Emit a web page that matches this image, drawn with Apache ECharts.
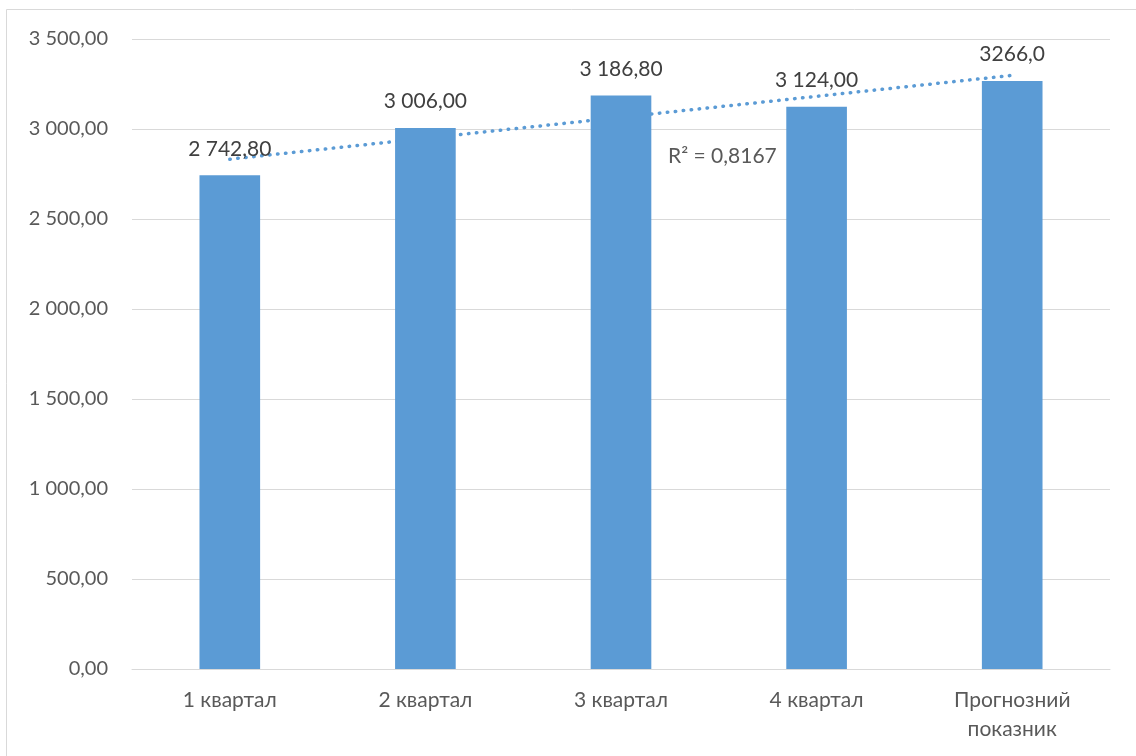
<!DOCTYPE html>
<html>
<head>
<meta charset="utf-8">
<script src="https://cdn.jsdelivr.net/npm/echarts@6/dist/echarts.min.js"></script>
<style>
  html, body { margin: 0; padding: 0; background: #fff; }
  #chart { width: 1136px; height: 756px; }
</style>
</head>
<body>
<div id="chart"></div>
<script>
// Quarterly values and the forecast
const categories = ['1 квартал', '2 квартал', '3 квартал', '4 квартал', 'Прогнозний\nпоказник'];
const values = [2742.8, 3006.0, 3186.8, 3124.0, 3266.0];
const valueLabels = ['2 742,80', '3 006,00', '3 186,80', '3 124,00', '3266,0'];
const yTicks = [0, 500, 1000, 1500, 2000, 2500, 3000, 3500];
const r2Text = 'R² = 0,8167';

// Linear least-squares trend over the category index
function linearTrend(ys) {
  const n = ys.length;
  const xs = ys.map((_, i) => i + 1);
  const mx = xs.reduce((a, b) => a + b, 0) / n;
  const my = ys.reduce((a, b) => a + b, 0) / n;
  let sxy = 0, sxx = 0;
  for (let i = 0; i < n; i++) { sxy += (xs[i] - mx) * (ys[i] - my); sxx += (xs[i] - mx) ** 2; }
  const k = sxy / sxx, b = my - k * mx;
  return xs.map(x => k * x + b);
}
const trend = linearTrend(values);

function fmtAxis(v) {
  const parts = v.toFixed(2).split('.');
  const int = parts[0].replace(/\B(?=(\d{3})+(?!\d))/g, ' ');
  return int + ',' + parts[1];
}

const FONT = 'Lato, "Open Sans", sans-serif';
const chart = echarts.init(document.getElementById('chart'), null, { renderer: 'canvas' });
chart.setOption({
  animation: false,
  backgroundColor: '#fff',
  grid: { left: 132, right: 26, top: 39, bottom: 87, containLabel: false },
  xAxis: {
    type: 'category',
    data: categories,
    axisLine: { lineStyle: { color: '#d9d9d9', width: 1 } },
    axisTick: { show: false },
    axisLabel: { color: '#595959', fontSize: 21, fontFamily: FONT, margin: 17, lineHeight: 29, interval: 0 }
  },
  yAxis: {
    type: 'value',
    min: yTicks[0],
    max: yTicks[yTicks.length - 1],
    interval: 500,
    axisLine: { show: false },
    axisTick: { show: false },
    splitLine: { lineStyle: { color: '#d9d9d9', width: 1 } },
    axisLabel: { color: '#595959', fontSize: 20, fontFamily: FONT, margin: 24, formatter: fmtAxis }
  },
  series: [
    {
      type: 'line',
      data: trend,
      symbol: 'none',
      silent: true,
      z: 1,
      lineStyle: { color: '#5B9BD5', width: 3.5, type: [0.5, 7.5], cap: 'round' }
    },
    {
      type: 'bar',
      data: values,
      barWidth: '31%',
      z: 2,
      itemStyle: { color: '#5B9BD5' },
      label: {
        show: true,
        position: 'top',
        distance: 16,
        color: '#404040',
        fontSize: 21,
        fontFamily: FONT,
        formatter: p => valueLabels[p.dataIndex]
      }
    }
  ],
  graphic: [
    {
      type: 'rect',
      shape: { x: 6.5, y: 9.5, width: 1140, height: 760 },
      style: { fill: 'none', stroke: '#d9d9d9', lineWidth: 1 },
      z: -10
    },
    {
      type: 'text',
      left: 668,
      top: 146,
      style: { text: r2Text, fill: '#595959', font: '21px ' + FONT }
    }
  ]
});
</script>
</body>
</html>
